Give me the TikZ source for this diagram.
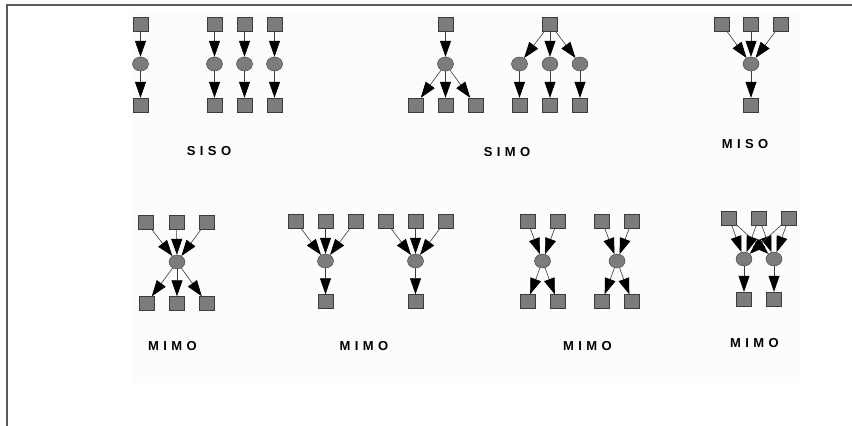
\documentclass[tikz,border=0pt]{standalone}
\usepackage{fontspec}
\setmainfont{Liberation Sans}
\usetikzlibrary{arrows.meta,shapes.geometric}
\definecolor{boxgray}{RGB}{124,124,124}
\definecolor{edgegray}{RGB}{60,60,60}
\definecolor{framegray}{RGB}{90,90,90}
\tikzset{
  sq/.style={draw=edgegray,fill=boxgray,minimum width=15pt,minimum height=14pt,inner sep=0pt},
  ell/.style={ellipse,draw=edgegray,fill=boxgray,minimum width=16pt,minimum height=14pt,inner sep=0pt},
  arr/.style={draw=edgegray,line width=0.6pt,-{Triangle[length=16pt,width=11pt,black]}},
  lbl/.style={font=\bfseries\fontsize{13}{15}\selectfont\addfontfeature{LetterSpace=34}}
}

\begin{document}
\begin{tikzpicture}[x=1pt,y=-1pt]
    \useasboundingbox (0,0) rectangle (852,426);
    \fill[gray!2] (132,12) rectangle (800,383);
    \draw[framegray,line width=2pt] (6.5,426) -- (6.5,4.5) -- (852,4.5);

    % SISO
    \foreach \n/\x in {a/140.5,b/214.5,c/244.5,d/274.5}
    {
      \node[sq] (siso-t\n) at (\x,24) {};
      \node[ell] (siso-e\n) at (\x,64) {};
      \node[sq] (siso-b\n) at (\x,105) {};
      \draw[arr] (siso-t\n) -- (siso-e\n);
      \draw[arr] (siso-e\n) -- (siso-b\n);
    }
    \node[lbl] (siso) at (209,151) {SISO};

    % SIMO
    \node[sq] (simo-t1) at (445.5,24) {};
    \node[ell] (simo-e1) at (445.5,64) {};
    \draw[arr] (simo-t1) -- (simo-e1);
    \foreach \n/\x in {a/415.5,b/445.5,c/475.5}
    {
      \node[sq] (simo-b\n) at (\x,105) {};
      \draw[arr] (simo-e1) -- (simo-b\n);
    }
    \node[sq] (simo-t2) at (550,24) {};
    \foreach \n/\x in {a/519.5,b/550,c/580}
    {
      \node[ell] (simo-e\n) at (\x,64) {};
      \node[sq] (simo-d\n) at (\x,105) {};
      \draw[arr] (simo-t2) -- (simo-e\n);
      \draw[arr] (simo-e\n) -- (simo-d\n);
    }
    \node[lbl] (simo) at (507,152) {SIMO};

    % MISO
    \node[ell] (miso-e) at (751,64) {};
    \node[sq] (miso-b) at (751,105) {};
    \foreach \n/\x in {a/721.5,b/751,c/781}
    {
      \node[sq] (miso-t\n) at (\x,24) {};
      \draw[arr] (miso-t\n) -- (miso-e);
    }
    \draw[arr] (miso-e) -- (miso-b);
    \node[lbl] (miso) at (745,144) {MISO};

    % MIMO, one hub
    \node[ell] (mimo1-e) at (177,262) {};
    \foreach \n/\x in {a/146,b/176.5,c/206.5}
    {
      \node[sq] (mimo1-t\n) at (\x,222) {};
      \node[sq] (mimo1-b\n) at (\x+0.5,303.5) {};
      \draw[arr] (mimo1-t\n) -- (mimo1-e);
      \draw[arr] (mimo1-e) -- (mimo1-b\n);
    }
    \node[lbl] (mimo1) at (172.5,346.5) {MIMO};

    % MIMO, two Y
    \foreach \g/\x in {a/325.5,b/415.5}
    {
      \node[ell] (mimo2-e\g) at (\x,261) {};
      \node[sq] (mimo2-b\g) at (\x,301.5) {};
      \foreach \n/\d in {1/-30,2/0,3/30}
      {
        \node[sq] (mimo2-t\g\n) at (\x+\d,221) {};
        \draw[arr] (mimo2-t\g\n) -- (mimo2-e\g);
      }
      \draw[arr] (mimo2-e\g) -- (mimo2-b\g);
    }
    \node[lbl] (mimo2) at (364,346) {MIMO};

    % MIMO, two X
    \foreach \g/\x in {a/542.5,b/617}
    {
      \node[ell] (mimo3-e\g) at (\x,261) {};
      \foreach \n/\d in {1/-15,2/15}
      {
        \node[sq] (mimo3-t\g\n) at (\x+\d,221) {};
        \node[sq] (mimo3-b\g\n) at (\x+\d,301.5) {};
        \draw[arr] (mimo3-t\g\n) -- (mimo3-e\g);
        \draw[arr] (mimo3-e\g) -- (mimo3-b\g\n);
      }
    }
    \node[lbl] (mimo3) at (587.5,346) {MIMO};

    % MIMO, three into two
    \foreach \g/\x in {a/744,b/774}
    {
      \node[ell] (mimo4-e\g) at (\x,259) {};
      \node[sq] (mimo4-b\g) at (\x,299) {};
      \draw[arr] (mimo4-e\g) -- (mimo4-b\g);
    }
    \foreach \n/\x in {1/729,2/759,3/789}
    {
      \node[sq] (mimo4-t\n) at (\x,218) {};
      \draw[arr] (mimo4-t\n) -- (mimo4-ea);
      \draw[arr] (mimo4-t\n) -- (mimo4-eb);
    }
    \node[lbl] (mimo4) at (754.5,343) {MIMO};
\end{tikzpicture}
\end{document}
